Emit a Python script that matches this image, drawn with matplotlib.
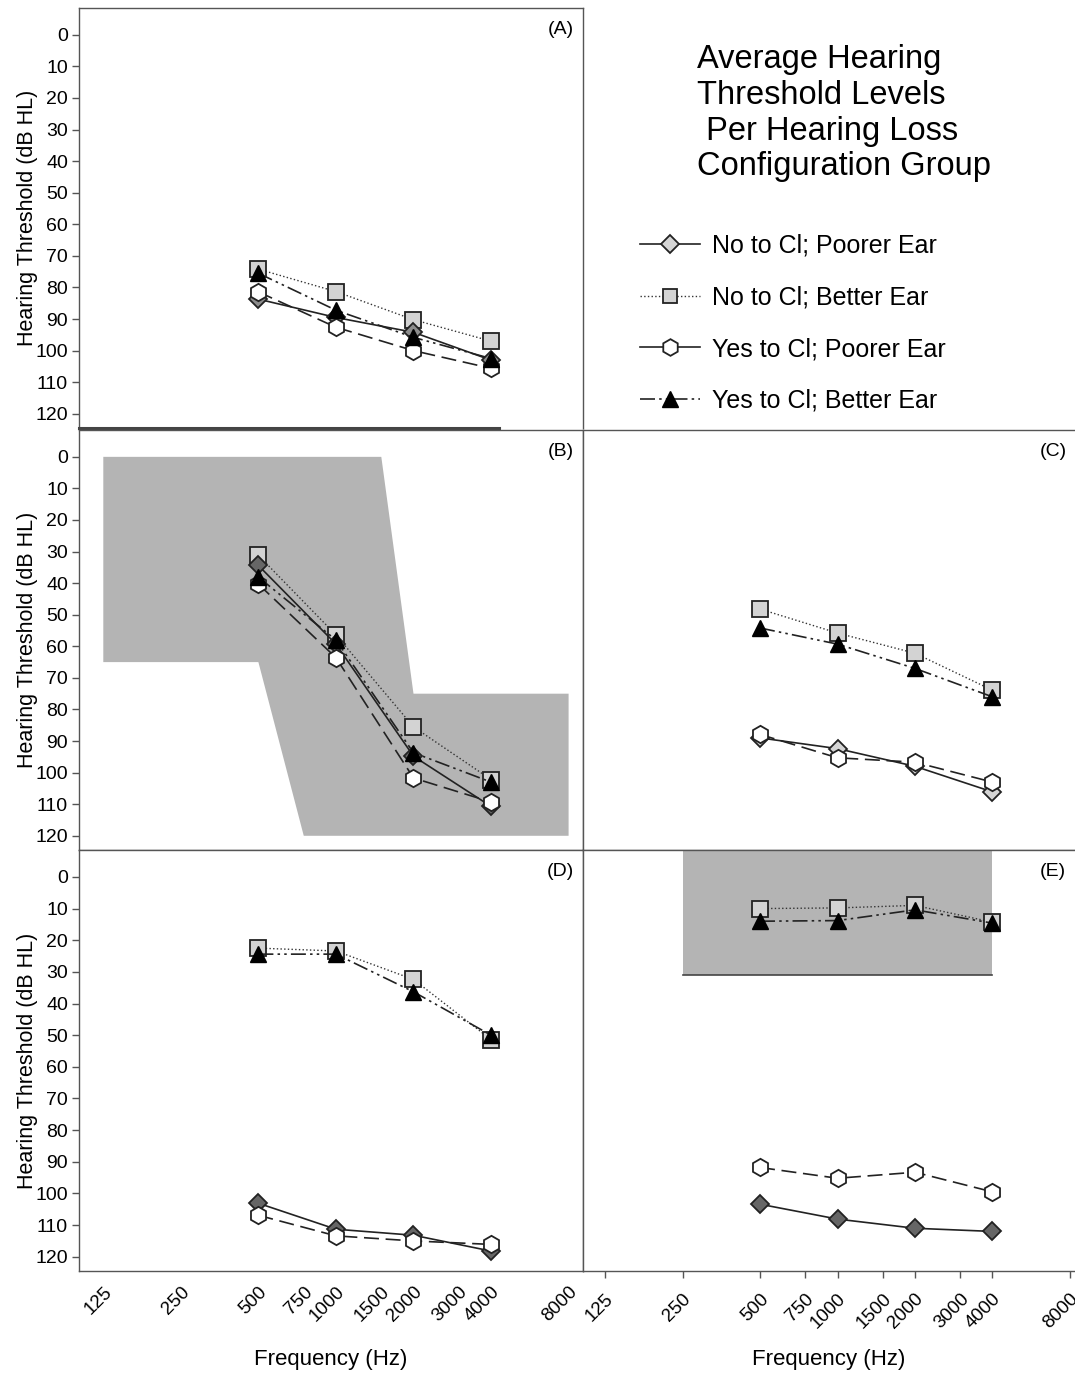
"""
Average hearing threshold levels per hearing loss configuration group.
Five audiogram panels (A-E) plus a legend block, saved as out.png.
"""

import matplotlib
matplotlib.use("Agg")
import matplotlib.pyplot as plt
from matplotlib.lines import Line2D

plt.rcParams["font.family"] = ["Liberation Sans", "DejaVu Sans"]

# ── Data ──────────────────────────────────────────────────────────────────────
freqs = [500, 1000, 2000, 4000]
tick_freqs = [125, 250, 500, 750, 1000, 1500, 2000, 3000, 4000, 8000]
y_ticks = list(range(0, 121, 10))

# per panel: No CI poorer (diamond), No CI better (square),
#            Yes CI poorer (hexagon), Yes CI better (triangle)
no_poor = {
    "A": [83.7, 89.5, 94.2, 103.0],
    "B": [34.4, 59.3, 94.8, 110.7],
    "C": [89.0, 92.4, 98.0, 106.1],
    "D": [103.1, 111.3, 113.2, 118.2],
    "E": [103.4, 108.1, 111.0, 112.0],
}
no_better = {
    "A": [74.2, 81.3, 90.2, 97.0],
    "B": [31.2, 56.4, 85.5, 102.2],
    "C": [48.2, 55.8, 62.2, 73.9],
    "D": [22.5, 23.4, 32.4, 51.4],
    "E": [10.0, 9.8, 9.0, 14.3],
}
yes_poor = {
    "A": [81.4, 92.6, 100.0, 105.6],
    "B": [40.3, 63.6, 101.7, 109.3],
    "C": [87.9, 95.3, 96.7, 103.0],
    "D": [106.9, 113.4, 115.0, 116.1],
    "E": [91.8, 95.2, 93.3, 99.5],
}
yes_better = {
    "A": [75.5, 87.2, 95.8, 102.5],
    "B": [38.1, 58.0, 93.7, 103.0],
    "C": [54.2, 59.3, 67.0, 76.0],
    "D": [24.4, 24.4, 36.3, 50.0],
    "E": [14.0, 13.8, 10.4, 14.6],
}
# diamond fill differs between panels in the source figure
diamond_fill = {"A": "#8c8c8c", "B": "#666666", "C": "#d4d4d4",
                "D": "#666666", "E": "#666666"}

# configuration ranges (shaded)
ski_slope_f = [125, 1500, 2000, 8000, 8000, 750, 500, 125]
ski_slope_db = [0, 0, 75, 75, 120, 120, 65, 65]
flat_f = [250, 4000]
flat_db_bottom = 31

legend_labels = ["No to Cl; Poorer Ear", "No to Cl; Better Ear",
                 "Yes to Cl; Poorer Ear", "Yes to Cl; Better Ear"]

# ── Layout ────────────────────────────────────────────────────────────────────
W, H = 1075, 1374
fig = plt.figure(figsize=(W / 100, H / 100), dpi=100)


def px_axes(x0, y0, x1, y1):
    return fig.add_axes([x0 / W, 1 - y1 / H, (x1 - x0) / W, (y1 - y0) / H])


panels = {
    "A": px_axes(79, 8, 583, 428),
    "B": px_axes(79, 430, 583, 850),
    "D": px_axes(79, 850, 583, 1271),
    "C": px_axes(583, 430, 1075, 850),
    "E": px_axes(583, 850, 1075, 1271),
}

SHADE = "#b4b4b4"
DDOT = (0, (9, 2.5, 1.5, 2.5, 1.5, 2.5))

for name, ax in panels.items():
    left = name in ("A", "B", "D")
    ax.set_xscale("log")
    if left:
        ax.set_xlim(100.6, 9100)
    else:
        ax.set_xlim(102.6, 8370)
    ax.set_ylim(124.5, -8.5)
    ax.minorticks_off()
    for s in ax.spines.values():
        s.set_color("#555555")
        s.set_linewidth(1.0)
    if not left:
        ax.spines["right"].set_visible(False)
    if name == "A":
        ax.spines["bottom"].set_visible(False)
        ax.plot([100.6, 4300], [124.5, 124.5], color="#444444", lw=2.2,
                clip_on=False, zorder=7)

    if name == "B":
        ax.fill(ski_slope_f, ski_slope_db, color=SHADE, lw=0, zorder=0)
    if name == "E":
        ax.fill_between(flat_f, -8.5, flat_db_bottom, color=SHADE, lw=0, zorder=0)
        ax.plot(flat_f, [flat_db_bottom] * 2, color="#444444", lw=1.2, zorder=1)

    ax.plot(freqs, no_better[name], ls=":", color="#333333", lw=1.0,
            marker="s", ms=11, mfc="#d3d3d3", mec="#222222", mew=1.3, zorder=3)
    ax.plot(freqs, no_poor[name], ls="-", color="#222222", lw=1.2,
            marker="D", ms=9.5, mfc=diamond_fill[name], mec="#222222", mew=1.3, zorder=4)
    ax.plot(freqs, yes_poor[name], ls=(0, (9, 4)), color="#222222", lw=1.2,
            marker="h", ms=12.5, mfc="white", mec="#222222", mew=1.3, zorder=5)
    ax.plot(freqs, yes_better[name], ls=DDOT, color="#222222", lw=1.2,
            marker="^", ms=11, mfc="black", mec="black", zorder=6)

    ax.text(0.955, 0.968, f"({name})", transform=ax.transAxes,
            ha="center", va="top", fontsize=14)

    if left:
        ax.set_yticks(y_ticks)
        ax.set_yticklabels([str(v) for v in y_ticks], fontsize=14)
        ax.tick_params(axis="y", direction="out", length=5, width=1,
                       color="#555555", pad=3)
        ax.set_ylabel("Hearing Threshold (dB HL)", fontsize=15.5, labelpad=-2)
    else:
        ax.set_yticks([])

    if name in ("D", "E"):
        ax.set_xticks(tick_freqs)
        ax.set_xticklabels([str(f) for f in tick_freqs], rotation=45,
                           ha="right", va="top", rotation_mode="anchor",
                           fontsize=13.5)
        ax.tick_params(axis="x", direction="out", length=5 if name == "E" else 0,
                       width=1, color="#555555", pad=9)
        ax.set_xlabel("Frequency (Hz)", fontsize=16)
        ax.xaxis.set_label_coords(0.5, -0.185)
    else:
        ax.set_xticks([])

# ── Title and legend block ───────────────────────────────────────────────────
fig.text(697 / W, 1 - 44 / H,
         "Average Hearing\nThreshold Levels\n Per Hearing Loss\nConfiguration Group",
         ha="left", va="top", fontsize=23.5, linespacing=1.2)

handles = [
    Line2D([], [], ls="-", color="#222222", lw=1.2, marker="D", ms=9.5,
           mfc="#d4d4d4", mec="#222222", mew=1.3),
    Line2D([], [], ls=":", color="#333333", lw=1.0, marker="s", ms=10,
           mfc="#d3d3d3", mec="#222222", mew=1.3),
    Line2D([], [], ls="-", color="#222222", lw=1.2, marker="h", ms=12,
           mfc="white", mec="#222222", mew=1.3),
    Line2D([], [], ls=DDOT, color="#222222", lw=1.2, marker="^", ms=11,
           mfc="black", mec="black"),
]
fig.legend(handles, legend_labels, loc="upper left",
           bbox_to_anchor=(630 / W, 1 - 224 / H), frameon=False,
           fontsize=18, handlelength=2.4, handletextpad=0.5,
           labelspacing=1.1, borderaxespad=0)

fig.savefig("out.png", dpi=100)
